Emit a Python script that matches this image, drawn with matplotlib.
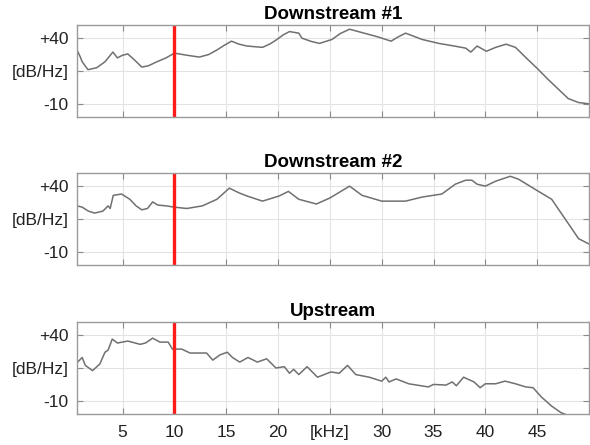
import matplotlib
matplotlib.use("Agg")
import matplotlib.pyplot as plt

plt.rcParams['font.family'] = ['Liberation Sans', 'DejaVu Sans']

titles = ["Downstream #1", "Downstream #2", "Upstream"]
cutoff_khz = 10
xticks = [5, 10, 15, 20, 25, 30, 35, 40, 45]
xticklabels = ["5", "10", "15", "20", "[kHz]", "30", "35", "40", "45"]
yticks = [-10, 15, 40]
yticklabels = ["-10", "[dB/Hz]", "+40"]

freq1 = [0.6, 0.9, 1.1, 1.66, 2.5, 3.3, 4.06, 4.5, 5.0, 5.5, 6.2, 6.85, 7.5, 8.3, 9.2,
         10.0, 11.2, 12.4, 13.3, 14.1, 14.8, 15.5, 16.2, 17.0, 18.5, 19.2, 19.8, 20.5,
         21.1, 22.0, 22.3, 23.2, 24.0, 24.6, 25.2, 26.0, 26.9, 28.3, 29.7, 30.9, 31.6,
         32.3, 33.9, 35.5, 37.0, 38.1, 38.6, 39.2, 40.1, 41.0, 42.0, 42.9, 44.0, 45.0,
         46.0, 46.8, 48.0, 49.0, 50.0]
db1 = [31, 26, 22, 16, 17.5, 22, 29.4, 25, 27, 28, 23, 18, 19, 22, 25,
       28.6, 27, 25.6, 27.5, 31, 34.5, 37.7, 35.5, 34, 33, 35.5, 38.5, 42.5,
       45, 43.8, 40, 37.5, 36, 37.5, 39, 43.5, 46.8, 43.8, 40.8, 37.7, 41,
       43.8, 39, 36, 34, 32.4, 29.4, 34, 30, 33, 35.4, 33, 24.5, 17,
       9, 3, -6, -9, -10]

freq2 = [0.6, 1.1, 1.7, 2.3, 3.1, 3.6, 3.8, 4.1, 4.9, 5.7, 6.3, 6.85, 7.4, 7.9, 8.4,
         9.2, 10.0, 11.2, 12.7, 14.1, 15.3, 16.2, 17.0, 18.5, 20.1, 21.0, 22.0, 23.7,
         25.0, 26.9, 28.1, 30.0, 32.3, 33.9, 35.8, 37.1, 38.1, 38.7, 39.2, 40.0, 41.0,
         42.4, 43.2, 44.5, 46.4, 47.7, 49.0, 50.0]
db2 = [25, 24, 21, 19.5, 21, 25, 23, 33, 34, 30, 25, 22, 23, 28, 25.6,
       25, 24, 23, 25, 30, 38.5, 35, 32.5, 28.6, 32.5, 36, 30, 26.4,
       31, 40, 33, 28.6, 28.6, 31.7, 34, 41.5, 44.5, 44.5, 41.5, 40, 43.8,
       47.5, 45.3, 39, 30, 15, 0, -4]

freq3 = [0.6, 1.1, 1.4, 2.1, 2.8, 3.3, 3.6, 4.0, 4.5, 5.5, 6.7, 7.2, 7.9, 8.6, 9.4,
         9.8, 10.7, 11.5, 13.1, 13.7, 14.4, 15.1, 15.6, 16.3, 17.1, 18.0, 18.9, 19.8,
         20.6, 21.1, 21.5, 22.0, 22.8, 23.8, 25.1, 25.9, 26.7, 27.5, 28.8, 30.0, 30.4,
         30.7, 31.4, 32.6, 34.5, 35.0, 36.2, 36.8, 37.2, 37.9, 38.9, 39.5, 40.0, 41.0,
         41.9, 42.9, 43.9, 44.6, 45.4, 46.4, 47.3, 47.8]
db3 = [19, 23, 17, 13, 18, 27, 28.6, 37, 34, 35.5, 33, 34, 37.7, 34.7, 34.7,
       29.4, 29.4, 26.4, 26.4, 21, 25, 27, 23, 19.5, 23, 19.5, 22, 15,
       16, 11, 14, 10, 16, 8, 12, 11, 17, 10, 8, 5, 8,
       4.4, 6.7, 3, 0.6, 2.5, 2, 4.4, 1.5, 8, 4.4, 0, 3, 3,
       5, 3, 0.6, 0, -7, -14, -19, -20.5]

series = [(freq1, db1), (freq2, db2), (freq3, db3)]

fig = plt.figure(figsize=(5.9, 4.45), dpi=100)
left, width = 77 / 590, 512 / 590
tops = [25, 173, 322]
height_px = 92
for i, (title, (f, d)) in enumerate(zip(titles, series)):
    bottom = 1 - (tops[i] + height_px) / 445
    ax = fig.add_axes([left, bottom, width, height_px / 445])
    ax.plot(f, d, color='#707070', lw=1.1, solid_joinstyle='round')
    ax.axvline(cutoff_khz, color='#ff1a1a', lw=2.4)
    ax.set_xlim(0.6, 50)
    ax.set_ylim(-20, 50)
    ax.set_xticks(xticks)
    ax.set_yticks(yticks)
    ax.set_yticklabels(yticklabels, fontsize=12.5)
    if i == 2:
        ax.set_xticklabels(xticklabels, fontsize=12.5)
    else:
        ax.set_xticklabels([])
    ax.grid(True, color='#e3e3e3', lw=0.8)
    ax.set_axisbelow(True)
    ax.tick_params(direction='in', top=True, right=True, length=4, width=0.8,
                   color='#8a8a8a', labelcolor='#222222')
    ax.tick_params(axis='y', pad=6)
    ax.tick_params(axis='x', pad=8)
    for s in ax.spines.values():
        s.set_color('#9a9a9a')
        s.set_linewidth(1.0)
    ax.set_title(title, fontsize=13.5, fontweight='bold', pad=4)

fig.savefig("out.png", dpi=100)
